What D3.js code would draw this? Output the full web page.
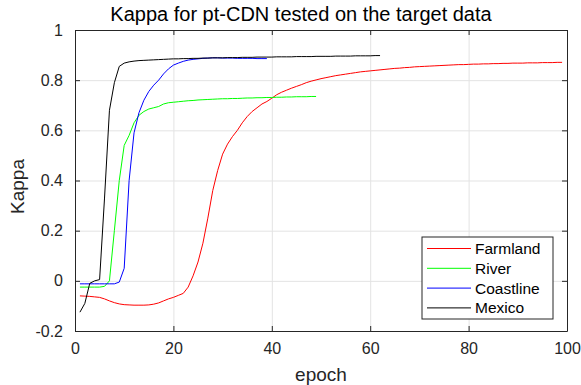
<!DOCTYPE html>
<html>
<head>
<meta charset="utf-8">
<script src="https://cdn.jsdelivr.net/npm/d3@7"></script>
<style>
  body { margin: 0; background: #fff; }
  svg { display: block; font-family: "Liberation Sans", Arial, sans-serif; }
  .axis path, .axis line { stroke: #262626; }
  .axis text { fill: #262626; font-size: 16px; }
  .grid line { stroke: #e3e3e3; }
  .grid path { stroke: none; }
</style>
</head>
<body>
<div id="chart"></div>
<script>
const title = "Kappa for pt-CDN tested on the target data";
const xTicks = [0, 20, 40, 60, 80, 100];
const yTicks = [-0.2, 0, 0.2, 0.4, 0.6, 0.8, 1];

const seriesNames = ["Farmland", "River", "Coastline", "Mexico"];
const seriesColors = ["#ff0000", "#00ff00", "#0000ff", "#000000"];

// kappa per epoch, starting at epoch 1
const farmland = [
  -0.060, -0.061, -0.062, -0.064, -0.066, -0.072, -0.080, -0.087, -0.092, -0.095,
  -0.096, -0.097, -0.097, -0.097, -0.096, -0.093, -0.088, -0.080, -0.072, -0.066,
  -0.058, -0.050, -0.025, 0.020, 0.075, 0.150, 0.250, 0.360, 0.440, 0.505,
  0.545, 0.575, 0.600, 0.630, 0.655, 0.675, 0.690, 0.705, 0.715, 0.728,
  0.742, 0.752, 0.760, 0.768, 0.775, 0.782, 0.790, 0.796, 0.801, 0.806,
  0.810, 0.814, 0.818, 0.821, 0.824, 0.827, 0.830, 0.833, 0.835, 0.837,
  0.839, 0.841, 0.843, 0.845, 0.847, 0.848, 0.850, 0.851, 0.853, 0.854,
  0.855, 0.856, 0.857, 0.858, 0.859, 0.860, 0.861, 0.862, 0.862, 0.863,
  0.864, 0.864, 0.865, 0.865, 0.866, 0.866, 0.867, 0.867, 0.868, 0.868,
  0.868, 0.869, 0.869, 0.869, 0.870, 0.870, 0.870, 0.871, 0.871
];
const river = [
  -0.025, -0.025, -0.025, -0.025, -0.025, -0.022, 0.000, 0.200, 0.400, 0.540,
  0.580, 0.630, 0.660, 0.675, 0.685, 0.690, 0.695, 0.705, 0.710, 0.712,
  0.714, 0.716, 0.718, 0.719, 0.721, 0.722, 0.723, 0.724, 0.725, 0.726,
  0.726, 0.727, 0.727, 0.728, 0.729, 0.729, 0.730, 0.730, 0.731, 0.731,
  0.732, 0.732, 0.733, 0.733, 0.734, 0.734, 0.734, 0.735, 0.735
];
const coastline = [
  -0.012, -0.012, -0.012, -0.012, -0.012, -0.012, -0.012, -0.012, -0.005, 0.050,
  0.400, 0.590, 0.670, 0.720, 0.755, 0.780, 0.800, 0.825, 0.845, 0.860,
  0.868, 0.875, 0.880, 0.883, 0.885, 0.887, 0.888, 0.889, 0.889, 0.888,
  0.888, 0.888, 0.887, 0.887, 0.887, 0.887, 0.886, 0.886, 0.886
];
const mexico = [
  -0.125, -0.090, -0.010, 0.000, 0.005, 0.330, 0.680, 0.790, 0.855, 0.868,
  0.873, 0.876, 0.878, 0.879, 0.880, 0.881, 0.882, 0.883, 0.884, 0.885,
  0.885, 0.886, 0.886, 0.887, 0.887, 0.888, 0.888, 0.889, 0.889, 0.889,
  0.890, 0.890, 0.890, 0.891, 0.891, 0.891, 0.892, 0.892, 0.892, 0.892,
  0.893, 0.893, 0.893, 0.893, 0.894, 0.894, 0.894, 0.894, 0.895, 0.895,
  0.895, 0.895, 0.896, 0.896, 0.896, 0.896, 0.897, 0.897, 0.897, 0.897,
  0.898, 0.898
];
const allSeries = [farmland, river, coastline, mexico];

const W = 581, H = 385;
const margin = { top: 30, right: 14, bottom: 54, left: 75 };
const iw = W - margin.left - margin.right;
const ih = H - margin.top - margin.bottom;

const svg = d3.select("#chart").append("svg")
  .attr("width", W).attr("height", H);

const x = d3.scaleLinear().domain([0, 100]).range([0, iw]);
const y = d3.scaleLinear().domain([-0.2, 1]).range([ih, 0]);

const g = svg.append("g").attr("transform", `translate(${margin.left},${margin.top})`);

// grid
g.append("g").attr("class", "grid")
  .attr("transform", `translate(0,${ih})`)
  .call(d3.axisBottom(x).tickValues(xTicks.slice(1, -1)).tickSize(-ih).tickFormat(""));
g.append("g").attr("class", "grid")
  .call(d3.axisLeft(y).tickValues(yTicks.slice(1, -1)).tickSize(-iw).tickFormat(""));

// lines
const line = d3.line()
  .x((d, i) => x(i + 1))
  .y(d => y(d));

allSeries.forEach((s, k) => {
  g.append("path")
    .datum(s)
    .attr("fill", "none")
    .attr("stroke", seriesColors[k])
    .attr("stroke-width", 1)
    .attr("d", line);
});

// axes, ticks inward
const fmt = d => (d === 0 ? "0" : String(+d.toFixed(1)));
g.append("g").attr("class", "axis")
  .attr("transform", `translate(0,${ih})`)
  .call(d3.axisBottom(x).tickValues(xTicks).tickSizeInner(-5).tickSizeOuter(0).tickPadding(12).tickFormat(fmt));
g.append("g").attr("class", "axis")
  .call(d3.axisLeft(y).tickValues(yTicks).tickSizeInner(-5).tickSizeOuter(0).tickPadding(12).tickFormat(fmt));
g.append("g").attr("class", "axis")
  .call(d3.axisTop(x).tickValues(xTicks).tickSizeInner(-5).tickSizeOuter(0).tickFormat(""));
g.append("g").attr("class", "axis")
  .attr("transform", `translate(${iw},0)`)
  .call(d3.axisRight(y).tickValues(yTicks).tickSizeInner(-5).tickSizeOuter(0).tickFormat(""));

// labels
svg.append("text")
  .attr("x", 301).attr("y", 21)
  .attr("text-anchor", "middle")
  .attr("font-size", 20).attr("fill", "#000")
  .text(title);
svg.append("text")
  .attr("x", margin.left + iw / 2).attr("y", 381)
  .attr("text-anchor", "middle")
  .attr("font-size", 19).attr("fill", "#262626")
  .text("epoch");
svg.append("text")
  .attr("transform", `translate(24,${margin.top + ih / 2 + 6}) rotate(-90)`)
  .attr("text-anchor", "middle")
  .attr("font-size", 19).attr("fill", "#262626")
  .text("Kappa");

// legend
const lg = svg.append("g").attr("transform", "translate(422,237)");
lg.append("rect")
  .attr("width", 131).attr("height", 82)
  .attr("fill", "#fff").attr("stroke", "#262626").attr("stroke-width", 1);
seriesNames.forEach((name, k) => {
  const yy = 11.5 + k * 19.8;
  lg.append("line")
    .attr("x1", 5).attr("x2", 49).attr("y1", yy).attr("y2", yy)
    .attr("stroke", seriesColors[k]).attr("stroke-width", 1);
  lg.append("text")
    .attr("x", 53).attr("y", yy + 5.5)
    .attr("font-size", 15.5).attr("fill", "#000")
    .text(name);
});
</script>
</body>
</html>
